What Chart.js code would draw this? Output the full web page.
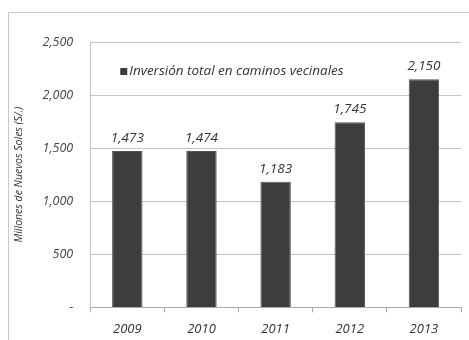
<!DOCTYPE html>
<html>
<head>
<meta charset="utf-8">
<script src="https://cdn.jsdelivr.net/npm/chart.js@4.4.1/dist/chart.umd.min.js"></script>
<style>
  html, body { margin: 0; padding: 0; background: #fff; }
  #wrap { width: 469px; height: 340px; position: relative; }
</style>
</head>
<body>
<div id="wrap"><canvas id="chart" width="469" height="340"></canvas></div>
<script>
const years = ['2009', '2010', '2011', '2012', '2013'];
const inversion = [1473, 1474, 1183, 1745, 2150];
const seriesLabel = 'Inversión total en caminos vecinales';
const yTitle = 'Millones de Nuevos Soles (S/.)';

const FONT = '"Open Sans", "Liberation Sans", sans-serif';

function fmt(v) {
    return v === 0 ? '-' : v.toLocaleString('en-US');
}

// faint frame round the whole chart, like the scanned original
const framePlugin = {
    id: 'frame',
    beforeDraw(chart) {
        const ctx = chart.ctx;
        ctx.save();
        ctx.strokeStyle = '#c8c8c8';
        ctx.lineWidth = 1;
        ctx.strokeRect(8.5, 12.5, chart.width + 5, chart.height + 5);
        ctx.restore();
    }
};

// value labels above each bar
const valueLabels = {
    id: 'valueLabels',
    afterDatasetsDraw(chart) {
        const ctx = chart.ctx;
        const meta = chart.getDatasetMeta(0);
        ctx.save();
        ctx.font = 'italic 13.5px ' + FONT;
        ctx.fillStyle = '#333';
        ctx.textAlign = 'center';
        ctx.textBaseline = 'bottom';
        meta.data.forEach((bar, i) => {
            ctx.fillText(fmt(inversion[i]), bar.x, bar.y - 6);
        });
        ctx.restore();
    }
};

// legend drawn inside the plot area, top left
const innerLegend = {
    id: 'innerLegend',
    afterDraw(chart) {
        const ctx = chart.ctx;
        const area = chart.chartArea;
        const x = area.left + 30;
        const y = area.top + 29;
        ctx.save();
        ctx.fillStyle = '#3c3c3c';
        ctx.fillRect(x, y - 3, 7, 7);
        ctx.font = 'italic 13.5px ' + FONT;
        ctx.fillStyle = '#333';
        ctx.textBaseline = 'middle';
        ctx.fillText(chart.data.datasets[0].label, x + 9, y);
        ctx.restore();
    }
};

const ctx = document.getElementById('chart').getContext('2d');
new Chart(ctx, {
    type: 'bar',
    data: {
        labels: years,
        datasets: [{
            label: seriesLabel,
            data: inversion,
            backgroundColor: '#3d3d3d',
            borderColor: '#555',
            borderWidth: 1,
            barPercentage: 0.41,
            categoryPercentage: 1.0
        }]
    },
    options: {
        responsive: false,
        animation: false,
        layout: { padding: { left: 13, right: 8, top: 42, bottom: -6 } },
        scales: {
            x: {
                offset: true,
                grid: {
                    offset: true,
                    drawOnChartArea: false,
                    drawTicks: true,
                    tickLength: 5,
                    color: '#aaa'
                },
                border: { color: '#aaa' },
                ticks: {
                    font: { family: FONT, size: 13, style: 'italic' },
                    color: '#333',
                    padding: 9
                }
            },
            y: {
                min: 0,
                max: 2500,
                ticks: {
                    stepSize: 500,
                    font: { family: FONT, size: 12.5, style: 'italic' },
                    color: '#444',
                    padding: 17,
                    callback: v => fmt(v)
                },
                grid: {
                    color: '#c4c4c4',
                    drawTicks: false
                },
                border: { color: '#c4c4c4' },
                title: {
                    display: true,
                    text: yTitle,
                    font: { family: FONT, size: 10.5, style: 'italic' },
                    color: '#333',
                    padding: { top: 0, bottom: 0 }
                }
            }
        },
        plugins: {
            legend: { display: false },
            tooltip: { enabled: false }
        }
    },
    plugins: [framePlugin, valueLabels, innerLegend]
});
</script>
</body>
</html>
